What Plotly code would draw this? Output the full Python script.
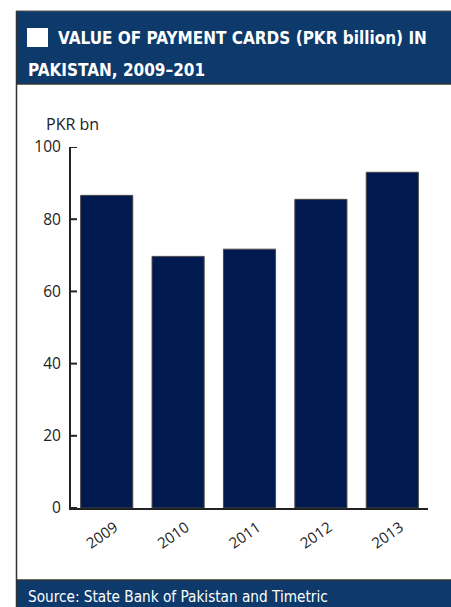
import plotly.graph_objects as go

# Annual value of payment card transactions
years = ["2009", "2010", "2011", "2012", "2013"]
values_pkr_bn = [86.6, 69.7, 71.7, 85.5, 93.0]
y_ticks = [0, 20, 40, 60, 80, 100]

W, H = 451, 607
ML, MR, MT, MB = 71, 23, 147, 99
PW, PH = W - ML - MR, H - MT - MB

HEADER_BLUE = "#0d3a6b"
BAR_BLUE = "#001a4f"
INK = "#222222"
TITLE_FONT = dict(family="Liberation Sans Narrow, DejaVu Sans Condensed", size=17, color="white")


def px_x(x):
    return (x - ML) / PW


def px_y(y):
    return 1 - (y - MT) / PH


fig = go.Figure(
    go.Bar(
        x=years,
        y=values_pkr_bn,
        marker=dict(color=BAR_BLUE, line=dict(color="#4a4a4a", width=1)),
        width=0.73,
        hoverinfo="x+y",
    )
)

shapes = [
    # title band
    dict(type="rect", xref="paper", yref="paper",
         x0=px_x(16), x1=px_x(455), y0=px_y(84), y1=px_y(11),
         fillcolor=HEADER_BLUE, line=dict(width=0), layer="below"),
    dict(type="line", xref="paper", yref="paper",
         x0=px_x(16), x1=px_x(455), y0=px_y(11), y1=px_y(11),
         line=dict(color="#555555", width=1)),
    dict(type="line", xref="paper", yref="paper",
         x0=px_x(16), x1=px_x(455), y0=px_y(84), y1=px_y(84),
         line=dict(color="#333333", width=1.5)),
    # white square marker in title
    dict(type="rect", xref="paper", yref="paper",
         x0=px_x(27), x1=px_x(48), y0=px_y(47), y1=px_y(28),
         fillcolor="white", line=dict(width=0)),
    # source band
    dict(type="rect", xref="paper", yref="paper",
         x0=px_x(16), x1=px_x(455), y0=px_y(610), y1=px_y(580),
         fillcolor=HEADER_BLUE, line=dict(width=0), layer="below"),
    dict(type="line", xref="paper", yref="paper",
         x0=px_x(16), x1=px_x(455), y0=px_y(580), y1=px_y(580),
         line=dict(color="#333333", width=1.5)),
    # left frame line
    dict(type="line", xref="paper", yref="paper",
         x0=px_x(16.5), x1=px_x(16.5), y0=px_y(610), y1=px_y(11),
         line=dict(color="#333333", width=1.5)),
]

# short tick marks pointing into the plot from the value axis
for v in y_ticks:
    shapes.append(dict(type="line", xref="paper", yref="y",
                       x0=0, x1=px_x(77), y0=v, y1=v,
                       line=dict(color=INK, width=2), layer="above"))

annotations = [
    dict(text="<b>VALUE OF PAYMENT CARDS (PKR billion) IN</b>",
         xref="paper", yref="paper", x=px_x(56), y=px_y(38),
         xanchor="left", yanchor="middle", align="left", showarrow=False,
         font=TITLE_FONT),
    dict(text="<b>PAKISTAN, 2009–201</b>",
         xref="paper", yref="paper", x=px_x(26), y=px_y(70),
         xanchor="left", yanchor="middle", align="left", showarrow=False,
         font=TITLE_FONT),
    dict(text="PKR bn", xref="paper", yref="paper",
         x=px_x(44), y=px_y(124), xanchor="left", yanchor="middle",
         showarrow=False,
         font=dict(family="Open Sans", size=16, color=INK)),
    dict(text="Source: State Bank of Pakistan and Timetric", xref="paper", yref="paper",
         x=px_x(26), y=px_y(597), xanchor="left", yanchor="middle",
         showarrow=False,
         font=dict(family="DejaVu Sans Condensed", size=15.2, color="white")),
]

fig.update_layout(
    width=W, height=H,
    margin=dict(l=ML, r=MR, t=MT, b=MB, pad=0),
    paper_bgcolor="white", plot_bgcolor="white",
    showlegend=False,
    shapes=shapes,
    annotations=annotations,
    bargap=0.27,
    font=dict(family="Open Sans", color=INK),
)

fig.update_yaxes(
    range=[0, 100], tickvals=y_ticks, ticks="", showline=True,
    linecolor=INK, linewidth=2,
    showgrid=False, zeroline=False, tickfont=dict(size=15.5, color=INK),
    ticklabelstandoff=5,
)
fig.update_xaxes(
    showline=True, linecolor=INK, linewidth=2, ticks="", tickangle=-35,
    tickfont=dict(size=15, color=INK), showgrid=False,
    range=[-0.5, 4.5], ticklabelshift=8, ticklabelstandoff=3,
)

fig.write_html("out.html")
